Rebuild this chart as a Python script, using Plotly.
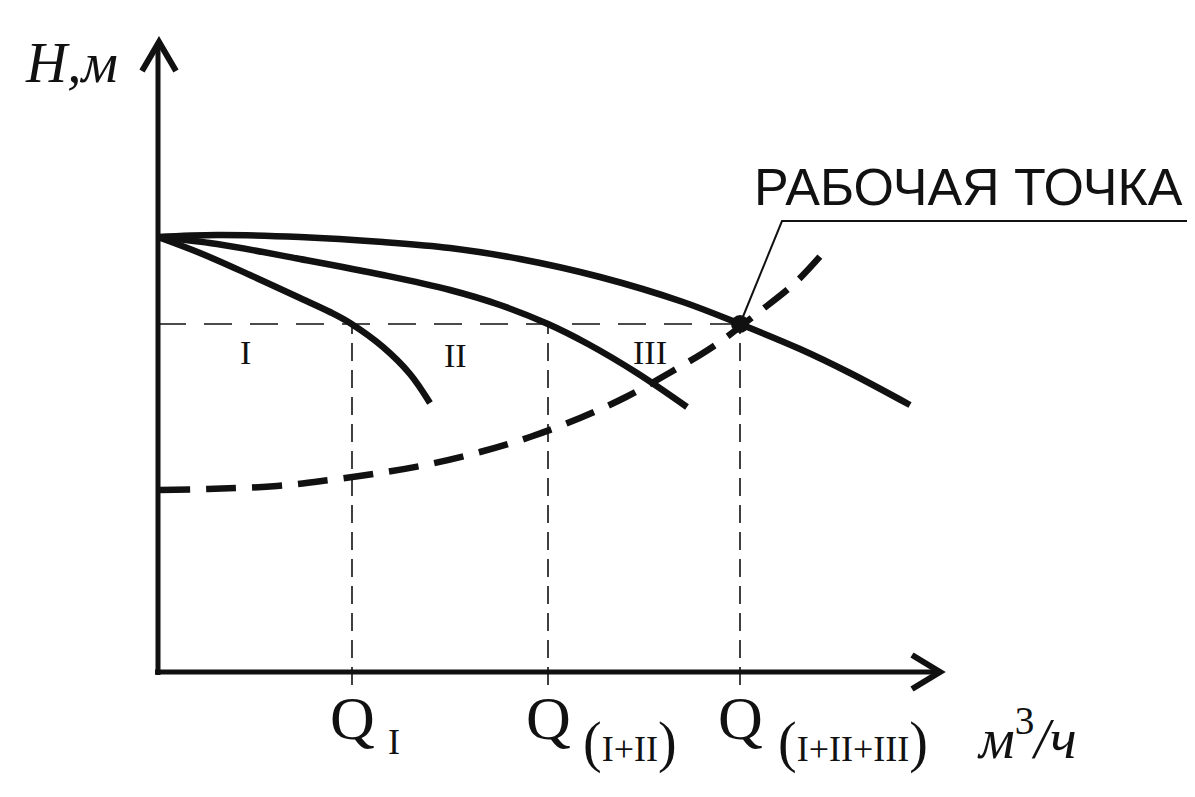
import plotly.graph_objects as go

# ---- data (schematic units: Q in m3/h-like units, H in m-like units) ----
pump1_q = [0, 4.2, 9.2, 14.2, 17.2, 19.2, 22.5, 25.2, 27.2]
pump1_h = [43.5, 41.9, 39.7, 37.4, 36.0, 34.9, 32.5, 29.8, 26.9]

pump12_q = [0, 5.9, 14.2, 22.5, 29.2, 34.2, 39.0, 43.0, 47.9, 52.9]
pump12_h = [43.5, 42.8, 41.3, 39.7, 38.2, 36.7, 34.8, 32.8, 29.9, 26.5]

pump123_q = [0, 5.9, 14.2, 22.5, 29.2, 36.2, 44.2, 52.5, 58.2, 64.2, 69.2, 75.2]
pump123_h = [43.5, 43.7, 43.5, 43.0, 42.4, 41.3, 39.5, 37.0, 34.8, 32.3, 29.9, 26.7]

system_q = [0.2, 5.0, 11.9, 17.2, 22.2, 27.2, 32.2, 37.2, 42.2, 46.8, 51.3, 55.6, 60.1, 63.8, 67.2]
system_h = [18.2, 18.3, 18.6, 19.2, 19.9, 20.8, 22.0, 23.5, 25.4, 27.5, 30.0, 32.6, 36.0, 39.0, 42.7]

work_h = 34.8
q_marks = [19.4, 39.0, 58.2]
q_main = ["Q", "Q", "Q"]
q_subs = ["I", "(I+II)", "(I+II+III)"]
roman_q = [8.7, 29.7, 49.2]
roman_h = [32.0, 31.7, 32.0]
roman_txt = ["I", "II", "III"]

x_end = 78.2   # x-axis arrow tip
y_end = 63.0   # y-axis arrow tip

fig = go.Figure()

black = "#111111"

# thin dashed guide lines
fig.add_trace(go.Scatter(x=[0, q_marks[2]], y=[work_h, work_h], mode="lines",
                         line=dict(color=black, width=1.6, dash="28px,18px"),
                         hoverinfo="skip", showlegend=False))
for q in q_marks:
    fig.add_trace(go.Scatter(x=[q, q], y=[-1.3, work_h], mode="lines",
                             line=dict(color=black, width=1.6, dash="18px,9px"),
                             hoverinfo="skip", showlegend=False))

# system curve (thick dashed)
fig.add_trace(go.Scatter(x=system_q, y=system_h, mode="lines", line_shape="spline",
                         line=dict(color=black, width=6.5, dash="30px,16px"),
                         hoverinfo="skip", showlegend=False))

# pump curves
for qq, hh in [(pump1_q, pump1_h), (pump12_q, pump12_h), (pump123_q, pump123_h)]:
    fig.add_trace(go.Scatter(x=qq, y=hh, mode="lines", line_shape="spline",
                             line=dict(color=black, width=6.5),
                             hoverinfo="skip", showlegend=False))

# axes
fig.add_trace(go.Scatter(x=[0, 0], y=[-0.3, y_end - 0.4], mode="lines",
                         line=dict(color=black, width=5), hoverinfo="skip", showlegend=False))
fig.add_trace(go.Scatter(x=[-0.3, x_end - 0.4], y=[0, 0], mode="lines",
                         line=dict(color=black, width=5), hoverinfo="skip", showlegend=False))
# arrow heads (open chevrons)
fig.add_trace(go.Scatter(x=[-1.6, 0.1, 1.8], y=[y_end - 2.9, y_end, y_end - 2.9], mode="lines",
                         line=dict(color=black, width=6), hoverinfo="skip", showlegend=False))
fig.add_trace(go.Scatter(x=[x_end - 2.8, x_end, x_end - 2.8], y=[1.7, 0, -1.7], mode="lines",
                         line=dict(color=black, width=6), hoverinfo="skip", showlegend=False))

# leader line to working point
fig.add_trace(go.Scatter(x=[q_marks[2], 62.4, 104.5], y=[work_h, 45.1, 45.1], mode="lines",
                         line=dict(color=black, width=2), hoverinfo="skip", showlegend=False))

# working point
fig.add_trace(go.Scatter(x=[q_marks[2]], y=[work_h], mode="markers",
                         marker=dict(color=black, size=18), hoverinfo="skip", showlegend=False))

serif = "Liberation Serif"
ann = []
ann.append(dict(x=-8.7, y=61.0, text="<i>H,м</i>", showarrow=False,
                font=dict(family=serif, size=57, color=black), xanchor="center", yanchor="middle"))
ann.append(dict(x=81.0, y=48.5, text="РАБОЧАЯ ТОЧКА", showarrow=False,
                font=dict(family="Liberation Sans", size=52, color=black), xanchor="center", yanchor="middle"))
for q, h, t in zip(roman_q, roman_h, roman_txt):
    ann.append(dict(x=q, y=h, text=t, showarrow=False,
                    font=dict(family=serif, size=34, color=black), xanchor="center", yanchor="middle"))
for q, m, s in zip(q_marks, q_main, q_subs):
    ann.append(dict(x=q, y=-4.6, text=m, showarrow=False,
                    font=dict(family=serif, size=62, color=black), xanchor="center", yanchor="middle"))
sub_x = [q_marks[0] + 3.4, q_marks[1] + 3.3, q_marks[2] + 3.6]
for x, s in zip(sub_x, q_subs):
    if s.startswith("("):
        txt = "<span style='font-size:56px'>(</span>" + s[1:-1] + "<span style='font-size:56px'>)</span>"
    else:
        txt = s
    ann.append(dict(x=x, y=-7.0, text=txt, showarrow=False,
                    font=dict(family=serif, size=36, color=black), xanchor="left", yanchor="middle"))
ann.append(dict(x=86.9, y=-6.2, text="<i>м</i><sup style='font-size:28px'>3</sup><i>/ч</i>", showarrow=False,
                font=dict(family=serif, size=56, color=black), xanchor="center", yanchor="middle"))

fig.update_layout(
    width=1195, height=797,
    margin=dict(l=0, r=0, t=0, b=0),
    paper_bgcolor="white", plot_bgcolor="white",
    xaxis=dict(range=[-15.0, 104.5], visible=False, fixedrange=True),
    yaxis=dict(range=[-13.3, 66.4], visible=False, fixedrange=True),
    annotations=ann,
    showlegend=False,
)

fig.write_html("out.html")
